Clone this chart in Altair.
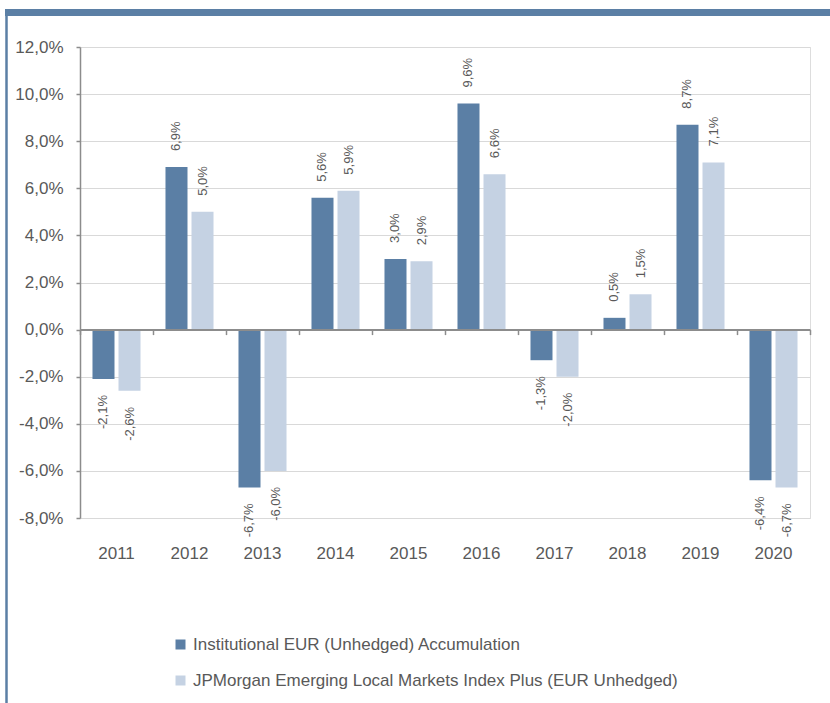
import altair as alt
import pandas as pd

years = ["2011", "2012", "2013", "2014", "2015", "2016", "2017", "2018", "2019", "2020"]
fund = [-2.1, 6.9, -6.7, 5.6, 3.0, 9.6, -1.3, 0.5, 8.7, -6.4]
bench = [-2.6, 5.0, -6.0, 5.9, 2.9, 6.6, -2.0, 1.5, 7.1, -6.7]
series_names = [
    "Institutional EUR (Unhedged) Accumulation",
    "JPMorgan Emerging Local Markets Index Plus (EUR Unhedged)",
]
colors = ["#5B7FA5", "#C5D2E3"]
y_ticks = [-8, -6, -4, -2, 0, 2, 4, 6, 8, 10, 12]

rows = []
for i, yr in enumerate(years):
    for s, vals in zip(series_names, [fund, bench]):
        v = vals[i]
        rows.append({"year": yr, "series": s, "value": v,
                     "label": f"{v:.1f}".replace(".", ",") + "%"})
df = pd.DataFrame(rows)

GREY_TXT = "#595959"
AXIS_GREY = "#8C8C8C"
FONT = "Liberation Sans"
PLOT_H = 471

x_scale = alt.Scale(paddingInner=0, paddingOuter=0)
xoff = alt.XOffset("series:N", sort=series_names,
                   scale=alt.Scale(paddingInner=0.154, paddingOuter=0.48))
y_enc = alt.Y(
    "value:Q",
    scale=alt.Scale(domain=[-8, 12], nice=False, zero=False),
    axis=alt.Axis(
        title=None, values=y_ticks,
        labelExpr="(datum.value < 0 ? '-' : '') + replace(format(abs(datum.value), '.1f'), '.', ',') + '%'",
        grid=True, gridColor="#D9D9D9", gridWidth=1,
        domainColor=AXIS_GREY, domainWidth=1.5, tickColor=AXIS_GREY, tickSize=4, tickWidth=1.5,
        labelPadding=13, labelFontSize=17, labelColor=GREY_TXT, labelFont=FONT,
    ),
)

label_axis = alt.Axis(title=None, orient="bottom", domain=False, ticks=False, grid=False,
                      labelAngle=0, labelFontSize=17, labelColor=GREY_TXT, labelFont=FONT,
                      labelPadding=27)
# zero line: bottom axis shifted up to the y=0 position (8 of 20 units above the bottom)
zero_axis = alt.Axis(title=None, orient="bottom", labels=False, grid=False,
                     domainColor=AXIS_GREY, domainWidth=2, tickColor=AXIS_GREY, tickWidth=1.5,
                     tickSize=5, tickBand="extent", zindex=1,
                     offset={"expr": f"-scale('y', -8) + scale('y', 0)"})

base = alt.Chart(df)

bars = base.mark_bar().encode(
    x=alt.X("year:N", scale=x_scale, axis=label_axis),
    xOffset=xoff,
    y=y_enc,
    color=alt.Color("series:N", scale=alt.Scale(domain=series_names, range=colors),
                    legend=alt.Legend(orient="none", legendX=92, legendY=589, title=None,
                                      symbolType="square", symbolSize=100, symbolStrokeWidth=0,
                                      labelFontSize=17, labelColor=GREY_TXT, labelFont=FONT,
                                      labelLimit=800, rowPadding=18, labelOffset=4,
                                      direction="vertical", padding=0)),
)

pos_text = base.transform_filter("datum.value >= 0").mark_text(
    angle=270, align="left", baseline="middle", dx=16, fontSize=13, color=GREY_TXT, font=FONT
).encode(
    x=alt.X("year:N", scale=x_scale, axis=zero_axis),
    xOffset=xoff,
    y=y_enc,
    text="label:N",
)

neg_text = base.transform_filter("datum.value < 0").mark_text(
    angle=270, align="right", baseline="middle", dx=-16, fontSize=13, color=GREY_TXT, font=FONT
).encode(
    x=alt.X("year:N", scale=x_scale, axis=None),
    xOffset=xoff,
    y=y_enc,
    text="label:N",
)

deco = alt.Chart(pd.DataFrame({"k": [0]}))
left_border = deco.mark_rule(color="#5B7FA5", strokeWidth=2.5).encode(
    x=alt.value(-73.5), y=alt.value(-38), y2=alt.value(660))
top_border = deco.mark_rule(color="#5B7FA5", strokeWidth=7).encode(
    x=alt.value(-75), x2=alt.value(760), y=alt.value(-34.5))

chart = alt.layer(bars, pos_text, neg_text, left_border, top_border).resolve_axis(
    x="independent"
).properties(
    width=730, height=PLOT_H, autosize="none",
    padding={"left": 80, "top": 47, "right": 20, "bottom": 185},
).configure_view(strokeWidth=0).configure(font=FONT)

chart.save("out.html", embed_options={"renderer": "svg", "actions": False})
